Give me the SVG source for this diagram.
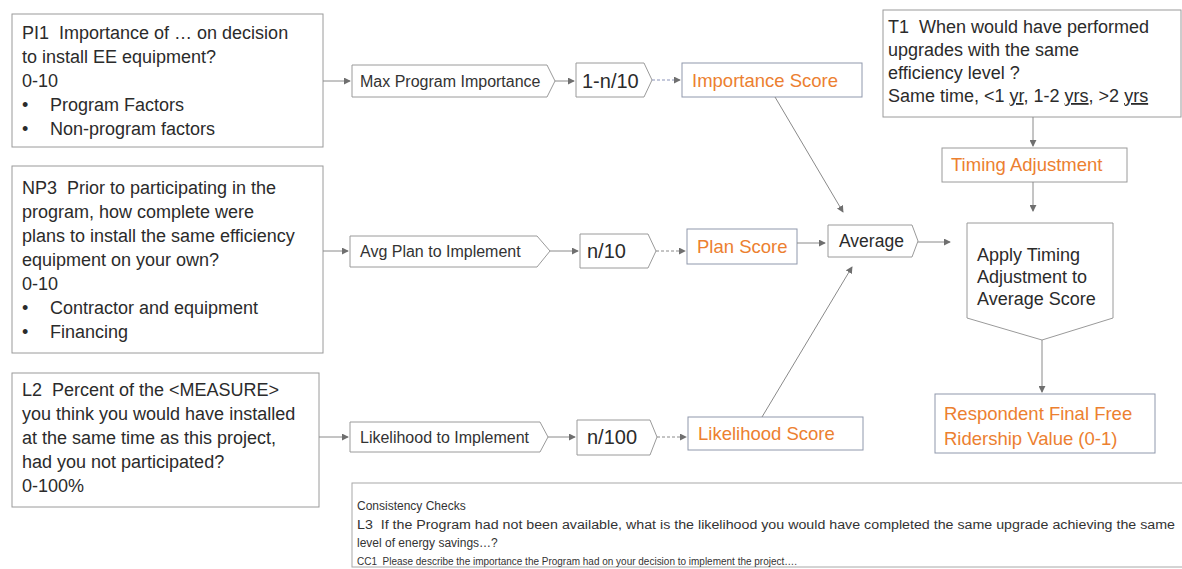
<svg xmlns="http://www.w3.org/2000/svg" width="1182" height="569" viewBox="0 0 1182 569">
<style>
  text { white-space: pre; }
  .box { fill: #ffffff; stroke: #9a9a9a; stroke-width: 1; }
  .bbox { fill: #ffffff; stroke: #8f98ac; stroke-width: 1; }
  .big { font-family: "Liberation Sans", Arial, sans-serif; font-size: 18px; fill: #2b2b2b; }
  .lbl { font-family: "Liberation Sans", Arial, sans-serif; font-size: 16px; fill: #333333; }
  .num { font-family: "Liberation Sans", Arial, sans-serif; font-size: 20px; fill: #2b2b2b; }
  .org { font-family: "Liberation Sans", Arial, sans-serif; font-size: 18.5px; fill: #EC8030; }
  .small { font-family: "Liberation Sans", Arial, sans-serif; font-size: 12px; fill: #333333; }
  .conn { fill: none; stroke: #8a8a8a; stroke-width: 1; }
  .dash { stroke-dasharray: 3 2; }
</style>
<defs>
  <marker id="arr" viewBox="0 0 8 8" refX="7" refY="4" markerWidth="7" markerHeight="7" markerUnits="userSpaceOnUse" orient="auto">
    <path d="M0,0 L8,4 L0,8 z" fill="#6f6f6f"/>
  </marker>
</defs>
<rect width="1182" height="569" fill="#ffffff"/>

<g id="pi1">
  <rect class="box" x="12" y="14" width="311" height="133"/>
  <text class="big" x="22" y="39">PI1  Importance of … on decision</text>
  <text class="big" x="22" y="63">to install EE equipment?</text>
  <text class="big" x="22" y="87">0-10</text>
  <text class="big" x="22" y="111">•</text>
  <text class="big" x="50" y="111">Program Factors</text>
  <text class="big" x="22" y="135">•</text>
  <text class="big" x="50" y="135">Non-program factors</text>
</g>

<g id="np3">
  <rect class="box" x="12" y="166" width="311" height="187"/>
  <text class="big" x="22" y="194">NP3  Prior to participating in the</text>
  <text class="big" x="22" y="218">program, how complete were</text>
  <text class="big" x="22" y="242">plans to install the same efficiency</text>
  <text class="big" x="22" y="266">equipment on your own?</text>
  <text class="big" x="22" y="290">0-10</text>
  <text class="big" x="22" y="314">•</text>
  <text class="big" x="50" y="314">Contractor and equipment</text>
  <text class="big" x="22" y="338">•</text>
  <text class="big" x="50" y="338">Financing</text>
</g>

<g id="l2">
  <rect class="box" x="12" y="373" width="307" height="134"/>
  <text class="big" x="22" y="396">L2  Percent of the &lt;MEASURE&gt;</text>
  <text class="big" x="22" y="420">you think you would have installed</text>
  <text class="big" x="22" y="444">at the same time as this project,</text>
  <text class="big" x="22" y="468">had you not participated?</text>
  <text class="big" x="22" y="492">0-100%</text>
</g>

<g id="max-program-importance">
  <polygon class="box" points="352,65 547,65 555,81 547,97 352,97"/>
  <text class="lbl" x="360" y="87">Max Program Importance</text>
</g>
<g id="one-minus-n10">
  <polygon class="box" points="576,63 644,63 652,80 644,97 576,97"/>
  <text class="num" x="582" y="88">1-n/10</text>
</g>
<g id="importance-score">
  <rect class="bbox" x="682" y="63" width="180" height="34"/>
  <text class="org" x="692" y="87">Importance Score</text>
</g>

<g id="avg-plan">
  <polygon class="box" points="350,236 537,236 550,251 537,267 350,267"/>
  <text class="lbl" x="360" y="257">Avg Plan to Implement</text>
</g>
<g id="n10">
  <polygon class="box" points="580,234 648,234 656,251 648,268 580,268"/>
  <text class="num" x="587" y="258">n/10</text>
</g>
<g id="plan-score">
  <rect class="bbox" x="687" y="229" width="110" height="35"/>
  <text class="org" x="697" y="253">Plan Score</text>
</g>

<g id="likelihood">
  <polygon class="box" points="350,422 540,422 548,437 540,452 350,452"/>
  <text class="lbl" x="360" y="443">Likelihood to Implement</text>
</g>
<g id="n100">
  <polygon class="box" points="577,420 650,420 657,437 650,455 577,455"/>
  <text class="num" x="587" y="444">n/100</text>
</g>
<g id="likelihood-score">
  <rect class="bbox" x="688" y="417" width="175" height="33"/>
  <text class="org" x="698" y="440">Likelihood Score</text>
</g>

<g id="average">
  <polygon class="box" points="828,225 912,225 918,241 912,257 828,257"/>
  <text class="big" x="839" y="247" style="font-size:17.5px">Average</text>
</g>

<g id="t1">
  <rect class="box" x="883" y="10" width="298" height="107"/>
  <text class="big" x="888" y="33">T1  When would have performed</text>
  <text class="big" x="888" y="56">upgrades with the same</text>
  <text class="big" x="888" y="79">efficiency level ?</text>
  <text class="big" x="888" y="102">Same time, &lt;1 <tspan text-decoration="underline">yr</tspan>, 1-2 <tspan text-decoration="underline">yrs</tspan>, &gt;2 <tspan text-decoration="underline">yrs</tspan></text>
</g>

<g id="timing-adjustment">
  <rect class="box" x="942" y="148" width="185" height="34"/>
  <text class="org" x="951" y="171">Timing Adjustment</text>
</g>

<g id="apply-timing">
  <polygon class="box" points="967,223 1113,223 1113,318 1042,340 967,318"/>
  <text class="big" x="977" y="261">Apply Timing</text>
  <text class="big" x="977" y="283">Adjustment to</text>
  <text class="big" x="977" y="305">Average Score</text>
</g>

<g id="respondent-final">
  <rect class="bbox" x="935" y="394" width="220" height="59"/>
  <text class="org" x="944" y="420">Respondent Final Free</text>
  <text class="org" x="944" y="445">Ridership Value (0-1)</text>
</g>

<g id="consistency-checks">
  <rect class="box" x="352" y="483" width="835" height="84" style="stroke:#a8a8a8"/>
  <text class="small" x="357" y="510">Consistency Checks</text>
  <text class="small" x="357" y="529" textLength="818" lengthAdjust="spacingAndGlyphs">L3  If the Program had not been available, what is the likelihood you would have completed the same upgrade achieving the same</text>
  <text class="small" x="357" y="547">level of energy savings…?</text>
  <text class="small" x="357" y="565" style="font-size:11px" textLength="440" lengthAdjust="spacingAndGlyphs">CC1  Please describe the importance the Program had on your decision to implement the project….</text>
</g>

<g id="connectors">
  <line class="conn" x1="323" y1="81" x2="350" y2="81" marker-end="url(#arr)"/>
  <line class="conn" x1="555" y1="81" x2="574" y2="81" marker-end="url(#arr)"/>
  <line class="conn dash" x1="652" y1="80" x2="680" y2="80" marker-end="url(#arr)" style="stroke:#8a93b8"/>
  <line class="conn" x1="323" y1="251" x2="348" y2="251" marker-end="url(#arr)"/>
  <line class="conn" x1="550" y1="251" x2="578" y2="251" marker-end="url(#arr)"/>
  <line class="conn dash" x1="656" y1="251" x2="685" y2="251" marker-end="url(#arr)"/>
  <line class="conn" x1="319" y1="437" x2="348" y2="437" marker-end="url(#arr)"/>
  <line class="conn" x1="548" y1="437" x2="575" y2="437" marker-end="url(#arr)"/>
  <line class="conn dash" x1="657" y1="437" x2="686" y2="437" marker-end="url(#arr)"/>
  <line class="conn" x1="797" y1="243" x2="825" y2="243" marker-end="url(#arr)"/>
  <line class="conn" x1="775" y1="97" x2="843" y2="212" marker-end="url(#arr)"/>
  <line class="conn" x1="762" y1="417" x2="852" y2="267" marker-end="url(#arr)"/>
  <line class="conn" x1="918" y1="242" x2="950" y2="242" marker-end="url(#arr)"/>
  <line class="conn" x1="1033" y1="117" x2="1033" y2="146" marker-end="url(#arr)"/>
  <line class="conn" x1="1033" y1="182" x2="1033" y2="211" marker-end="url(#arr)"/>
  <line class="conn" x1="1042" y1="340" x2="1042" y2="392" marker-end="url(#arr)"/>
</g>
</svg>
